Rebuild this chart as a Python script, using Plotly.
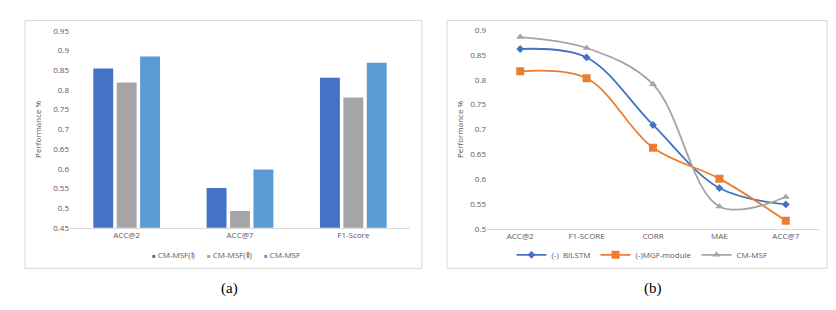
import plotly.graph_objects as go

W, H = 836, 310

# ---- Data (a) ----
bar_categories = ["ACC@2", "ACC@7", "F1-Score"]
bar_series_names = ["CM-MSF(Ⅰ)", "CM-MSF(Ⅱ)", "CM-MSF"]
msf1_values = [0.854, 0.551, 0.831]
msf2_values = [0.819, 0.493, 0.781]
msf_values = [0.885, 0.598, 0.869]
bar_yticks = [0.45, 0.5, 0.55, 0.6, 0.65, 0.7, 0.75, 0.8, 0.85, 0.9, 0.95]
bar_yticklabels = ["0.45", "0.5", "0.55", "0.6", "0.65", "0.7", "0.75", "0.8", "0.85", "0.9", "0.95"]

# ---- Data (b) ----
line_categories = ["ACC@2", "F1-SCORE", "CORR", "MAE", "ACC@7"]
bilstm_values = [0.862, 0.845, 0.709, 0.582, 0.549]
mgf_values = [0.817, 0.803, 0.663, 0.601, 0.516]
cmmsf_values = [0.886, 0.864, 0.791, 0.545, 0.564]
line_series_names = ["(-)  BILSTM", "(-)MGF-module", "CM-MSF"]
line_yticks = [0.5, 0.55, 0.6, 0.65, 0.7, 0.75, 0.8, 0.85, 0.9]
line_yticklabels = ["0.5", "0.55", "0.6", "0.65", "0.7", "0.75", "0.8", "0.85", "0.9"]

def px_x(x):
    return x / W

def px_y(y):
    return 1 - y / H

FONT = "Open Sans, Liberation Sans, sans-serif"
TXT = "#595959"
tick_font = dict(family=FONT, size=8, color=TXT)

fig = go.Figure()

bar_colors = ["#4472C4", "#A5A5A5", "#5B9BD5"]
for name, vals, col in zip(bar_series_names, [msf1_values, msf2_values, msf_values], bar_colors):
    fig.add_trace(go.Bar(x=bar_categories, y=vals, name=name, marker=dict(color=col, line=dict(width=0)),
                         xaxis="x", yaxis="y", showlegend=False))

line_colors = ["#4472C4", "#ED7D31", "#A5A5A5"]
symbols = ["diamond", "square", "triangle-up"]
sizes = [6, 8, 7]
for name, vals, col, sym, sz in zip(line_series_names, [bilstm_values, mgf_values, cmmsf_values],
                                    line_colors, symbols, sizes):
    fig.add_trace(go.Scatter(x=line_categories, y=vals, name=name, mode="lines+markers",
                             line=dict(color=col, width=1.8, shape="spline", smoothing=1.0),
                             marker=dict(symbol=sym, size=sz, color=col),
                             xaxis="x2", yaxis="y2", legend="legend2"))

fig.update_layout(
    width=W, height=H,
    margin=dict(l=0, r=0, t=0, b=0),
    paper_bgcolor="white", plot_bgcolor="white",
    barmode="group", bargap=0.38, bargroupgap=0.15,
    font=dict(family=FONT, size=8, color=TXT),
    xaxis=dict(domain=[px_x(70), px_x(410)], showline=True, linecolor="#D9D9D9", linewidth=1,
               ticks="", tickfont=tick_font, showgrid=False, range=[-0.5, 2.5]),
    yaxis=dict(domain=[px_y(230), px_y(25.7)], range=[0.45, 0.95], tickvals=bar_yticks,
               ticktext=bar_yticklabels, showgrid=False, showline=False, zeroline=False,
               tickfont=tick_font, ticks="", ticklen=0,
               title=dict(text="Performance %", font=dict(family=FONT, size=8, color=TXT), standoff=10)),
    xaxis2=dict(domain=[px_x(487), px_x(819)], showline=True, linecolor="#D9D9D9", linewidth=1,
                ticks="", tickfont=dict(family=FONT, size=8, color=TXT), showgrid=False,
                range=[-0.5, 4.5], anchor="y2"),
    yaxis2=dict(domain=[px_y(231), px_y(25)], range=[0.5, 0.9], tickvals=line_yticks,
                ticktext=line_yticklabels, showgrid=False, showline=False, zeroline=False,
                tickfont=tick_font, ticks="", anchor="x2",
                title=dict(text="Performance %", font=dict(family=FONT, size=8, color=TXT), standoff=5)),
    legend2=dict(orientation="h", x=px_x(642), xanchor="center", y=px_y(258), yanchor="middle",
                 font=dict(family=FONT, size=8, color=TXT), bgcolor="rgba(0,0,0,0)",
                 itemwidth=30),
    showlegend=True,
)

# compact legend for panel (a): coloured square glyph + series name
legend_parts = []
for name, col in zip(bar_series_names, bar_colors):
    legend_parts.append(f"<span style='color:{col};font-size:6px'>■</span> {name}")
fig.add_annotation(text="\u2003\u2002".join(legend_parts), x=px_x(226), y=px_y(258),
                   xref="paper", yref="paper", showarrow=False, xanchor="center", yanchor="middle",
                   font=dict(family=FONT, size=8, color=TXT))

# panel borders
fig.add_shape(type="rect", xref="paper", yref="paper", x0=px_x(25), x1=px_x(422), y0=px_y(272), y1=px_y(15),
              line=dict(color="#D9D9D9", width=1), fillcolor="rgba(0,0,0,0)", layer="below")
fig.add_shape(type="rect", xref="paper", yref="paper", x0=px_x(447), x1=px_x(827), y0=px_y(272), y1=px_y(15),
              line=dict(color="#D9D9D9", width=1), fillcolor="rgba(0,0,0,0)", layer="below")

# captions
for label, cx in [("(a)", 229), ("(b)", 653)]:
    fig.add_annotation(text=label, x=px_x(cx), y=px_y(293), xref="paper", yref="paper",
                       showarrow=False, xanchor="center", yanchor="middle",
                       font=dict(family="Liberation Serif, Times New Roman, serif", size=15, color="#000000"))

fig.write_html("out.html", config={"displayModeBar": False},
               post_script="document.body.style.margin='0';document.body.style.overflow='hidden';")
